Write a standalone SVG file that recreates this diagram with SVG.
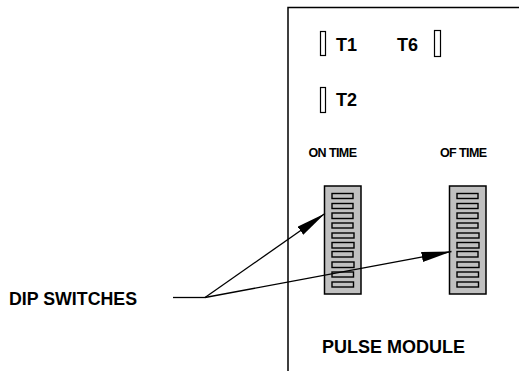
<svg xmlns="http://www.w3.org/2000/svg" width="519" height="371" viewBox="0 0 519 371">
<style>
.t{font-family:"Liberation Sans",Arial,sans-serif;font-weight:bold;fill:#000}
.big{font-size:18px}
.sm{font-size:12.5px;letter-spacing:-0.6px}
.ln{stroke:#000;stroke-width:1.3;fill:none}
.led{fill:#fff;stroke:#000;stroke-width:1.2}
.body{fill:#c0c0c0;stroke:#000;stroke-width:1.5}
.slot{fill:#c0c0c0;stroke:#000;stroke-width:1.4}
</style>
<defs>
<marker id="ah" viewBox="0 0 30 10" refX="30" refY="5" markerWidth="30" markerHeight="10" markerUnits="userSpaceOnUse" orient="auto">
<path d="M0,0 L30,5 L0,10 z" fill="#000"/>
</marker>
<g id="slots">
<rect class="slot" x="0" y="0" width="21" height="5"/>
<rect class="slot" x="0" y="10" width="21" height="5"/>
<rect class="slot" x="0" y="19.5" width="21" height="5.5"/>
<rect class="slot" x="0" y="29.5" width="21" height="5"/>
<rect class="slot" x="0" y="39.5" width="22" height="5"/>
<rect class="slot" x="0" y="49" width="22" height="5.5"/>
<rect class="slot" x="0" y="58" width="21" height="5.5"/>
<rect class="slot" x="0" y="68.5" width="22" height="5.5"/>
<rect class="slot" x="0" y="78.5" width="21.5" height="5"/>
<rect class="slot" x="0" y="88.5" width="21.5" height="5"/>
</g>
</defs>
<g id="module">
<rect x="288" y="7.5" width="300" height="400" fill="#fff" stroke="#000" stroke-width="1.5"/>
<text class="t big" x="322" y="353">PULSE MODULE</text>
</g>
<g id="t1">
<rect class="led" x="320.5" y="31.5" width="5" height="24"/>
<text class="t big" x="336" y="51">T1</text>
</g>
<g id="t6">
<text class="t big" x="397" y="51">T6</text>
<rect class="led" x="434.5" y="30.5" width="6" height="26"/>
</g>
<g id="t2">
<rect class="led" x="320.5" y="87.5" width="5" height="25"/>
<text class="t big" x="336" y="106">T2</text>
</g>
<g id="on-time">
<text class="t sm" x="308.5" y="157">ON TIME</text>
<rect class="body" x="324.5" y="186" width="36.5" height="108"/>
<use href="#slots" x="332" y="193.5"/>
</g>
<g id="of-time">
<text class="t sm" x="440" y="157">OF TIME</text>
<rect class="body" x="449.5" y="186" width="36.5" height="108"/>
<use href="#slots" x="457" y="193.5"/>
</g>
<g id="dip-label">
<text class="t big" x="9" y="305" textLength="128" lengthAdjust="spacingAndGlyphs">DIP SWITCHES</text>
</g>
<g id="connectors">
<path class="ln" d="M173,297.5 L205,297.5"/>
<path class="ln" d="M205,297.5 L325,213.5" marker-end="url(#ah)"/>
<path class="ln" d="M205,297.5 L451.5,251.5" marker-end="url(#ah)"/>
</g>
</svg>
